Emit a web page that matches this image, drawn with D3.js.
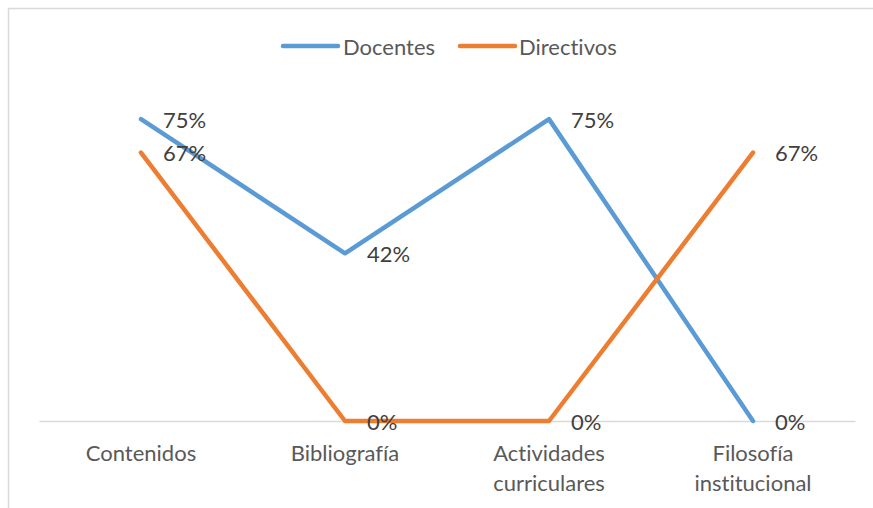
<!DOCTYPE html>
<html>
<head>
<meta charset="utf-8">
<script src="https://cdn.jsdelivr.net/npm/d3@7"></script>
<style>
  html, body { margin: 0; padding: 0; background: #fff; }
  svg { display: block; }
  text { font-family: Lato, "Open Sans", sans-serif; font-variant-ligatures: none; font-feature-settings: "liga" 0, "dlig" 0; }
</style>
</head>
<body>
<script>
// Categories and series (shares of respondents)
const categories = [["Contenidos"], ["Bibliografía"], ["Actividades", "curriculares"], ["Filosofía", "institucional"]];
const docentes = [0.75, 0.4167, 0.75, 0];
const directivos = [0.6667, 0, 0, 0.6667];
const seriesNames = ["Docentes", "Directivos"];
const seriesColors = ["#5B9BD5", "#ED7D31"];

const W = 873, H = 508;
const svg = d3.select("body").append("svg").attr("width", W).attr("height", H);

// outer frame
svg.append("rect")
  .attr("x", 8.5).attr("y", 8.5)
  .attr("width", W + 20).attr("height", H + 20)
  .attr("fill", "none").attr("stroke", "#D9D9D9").attr("stroke-width", 1.5);

const plot = { left: 39, right: 855, top: 99, bottom: 421 };

const x = d3.scaleBand()
  .domain(d3.range(categories.length))
  .range([plot.left, plot.right]);

const y = d3.scaleLinear().domain([0, 0.8]).range([plot.bottom, plot.top]);

// category axis
const xAxis = d3.axisBottom(x).tickSize(0).tickFormat(() => "");
const gx = svg.append("g").attr("transform", `translate(0,${plot.bottom})`).call(xAxis);
gx.select(".domain").attr("stroke", "#D9D9D9").attr("stroke-width", 1.5);

const fontSize = 22;
gx.selectAll(".tick").each(function(d) {
  const t = d3.select(this).append("text")
    .attr("fill", "#595959")
    .attr("font-size", fontSize)
    .attr("text-anchor", "middle")
    .attr("y", 40);
  categories[d].forEach((line, i) => {
    t.append("tspan").attr("x", 0).attr("dy", i === 0 ? 0 : 30).text(line);
  });
});

const cx = i => x(i) + x.bandwidth() / 2;
const line = d3.line().x((d, i) => cx(i)).y(d => y(d));
const fmt = d3.format(".0%");

[docentes, directivos].forEach((vals, s) => {
  svg.append("path")
    .datum(vals)
    .attr("d", line)
    .attr("fill", "none")
    .attr("stroke", seriesColors[s])
    .attr("stroke-width", 4.5)
    .attr("stroke-linejoin", "round")
    .attr("stroke-linecap", "round");
});

// data labels to the right of each point
[docentes, directivos].forEach((vals) => {
  svg.append("g").selectAll("text")
    .data(vals)
    .join("text")
    .attr("x", (d, i) => cx(i) + 22)
    .attr("y", d => y(d))
    .attr("dominant-baseline", "central")
    .attr("fill", "#404040")
    .attr("font-size", fontSize)
    .text(d => fmt(d));
});

// legend
const legendItems = [{ x: 283, tx: 343 }, { x: 460, tx: 519 }];
const lg = svg.append("g");
seriesNames.forEach((name, i) => {
  lg.append("line")
    .attr("x1", legendItems[i].x).attr("x2", legendItems[i].x + 55)
    .attr("y1", 46).attr("y2", 46)
    .attr("stroke", seriesColors[i]).attr("stroke-width", 4.5)
    .attr("stroke-linecap", "round");
  lg.append("text")
    .attr("x", legendItems[i].tx).attr("y", 46)
    .attr("dominant-baseline", "central")
    .attr("fill", "#595959")
    .attr("font-size", fontSize)
    .text(name);
});
</script>
</body>
</html>
